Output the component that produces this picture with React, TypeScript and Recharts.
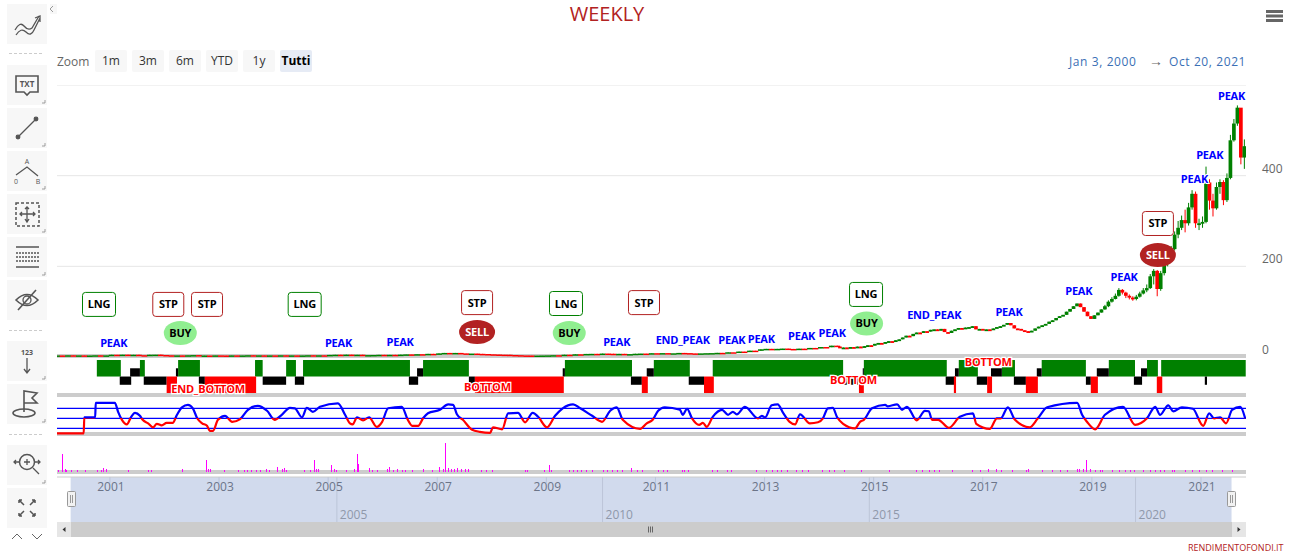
/**
 * Weekly price chart with status, oscillator and volume panes.
 * All x values are years since Jan 2000.
 */
import {
  Bar,
  CartesianGrid,
  ComposedChart,
  Line,
  ReferenceArea,
  ReferenceDot,
  ReferenceLine,
  XAxis,
  YAxis,
} from "recharts";

const FONT = '"Open Sans", sans-serif';
const X_DOMAIN = [0.03, 21.825];
const PLOT_LEFT = 57;
const PLOT_WIDTH = 1189;

// price, sampled every 0.1 year up to mid 2014 (no visible wicks)
const earlyStart = 0.03;
const earlyStep = 0.1;
const earlyClose = [
  3.5, 3.2, 3.8, 3.3, 3.6, 3, 3.4, 3.8, 3.2, 3.6,
  5, 4.8, 5.2, 4.6, 5, 4, 3.8, 5, 5.2, 4.4,
  3.8, 3.4, 3.6, 3.2, 3.8, 4.2, 3, 3.4, 3.2, 3.6,
  3.4, 3, 3.6, 3.2, 3.5, 3.9, 3.3, 3.7, 3.2, 3.6,
  3.4, 3.8, 3.2, 3.6, 3.2, 3.5, 3.9, 3.4, 3.8, 3.3,
  4.6, 5, 4.4, 5.2, 4.6, 5, 4.2, 4.2, 4.4, 4.8,
  4.5, 4.8, 4.4, 5.2, 5.8, 5.4, 6.2, 6, 7, 6.6,
  8, 9, 8.6, 9, 8, 7.5, 7.6, 7, 6.6, 6,
  5.6, 5.2, 5, 4.4, 4, 3.5, 3.4, 3, 3.2, 3.4,
  3.6, 4, 3.8, 5, 4.6, 6, 5.6, 6.8, 7, 6.6,
  7.6, 7.2, 6.6, 7, 6, 6.4, 7.2, 7.6, 7.2, 8.4,
  8, 8.6, 8, 8.2, 9, 8.6, 8, 7.6, 8, 8.4,
  8.6, 9.2, 9, 10.4, 10.2, 12, 11.6, 14, 13.6, 17,
  18, 17.4, 18, 18.6, 17.8, 17.4, 18.4, 18, 20, 19.4,
  22, 21.5, 25, 23,
];

// price from mid 2014 on
const lateStart = 14.38;
const lateStep = 0.0639;
const lateClose = [
  20, 21, 20, 22, 21, 23, 22, 24, 26, 25,
  29, 31, 30, 33, 35, 34, 37, 39, 43, 47,
  46, 51, 54, 53, 57, 56, 60, 61, 58, 62,
  55, 53, 58, 61, 64, 62, 65, 66, 68, 61,
  62, 60, 61, 60, 63, 66, 68, 71, 75, 70,
  63, 62, 59, 57, 55, 58, 63, 67, 70, 73,
  78, 81, 86, 90, 93, 100, 106, 112, 118, 110,
  100, 90, 84, 92, 98, 105, 112, 122, 128, 135,
  148, 142, 135, 131, 128, 133, 140, 147, 152, 178,
  190, 150, 185, 205, 222, 238, 270, 285, 302, 295,
  330, 360, 295, 295, 298, 385, 345, 328, 375, 386,
  346, 395, 478, 515, 550, 440, 465,
];
// wicks, only read for the last candles, where they are big enough to see
const wickFromIndex = 76;
const lateHigh = [
  115, 125, 132, 140, 152, 150, 144, 138, 134, 137,
  144, 152, 160, 183, 194, 192, 190, 210, 228, 245,
  277, 300, 312, 325, 340, 368, 365, 305, 310, 420,
  392, 360, 385, 392, 390, 405, 490, 525, 555, 548, 480,
];
const lateLow = [
  104, 110, 120, 127, 133, 138, 130, 127, 124, 125,
  131, 138, 143, 150, 160, 134, 146, 180, 200, 220,
  235, 262, 280, 275, 290, 325, 285, 280, 285, 295,
  325, 310, 325, 360, 335, 342, 392, 475, 510, 425, 415,
];

const priceTicks = [0, 200, 400, 600];

const annoText = [
  "LNG", "STP", "STP", "LNG", "BUY", "PEAK", "PEAK", "PEAK", "STP", "SELL",
  "LNG", "BUY", "PEAK", "STP", "END_PEAK", "PEAK", "PEAK", "PEAK", "PEAK", "LNG",
  "BUY", "END_PEAK", "PEAK", "PEAK", "PEAK", "STP", "SELL", "PEAK", "PEAK", "PEAK",
];
const annoT = [
  0.8, 2.07, 2.78, 4.57, 2.29, 1.07, 5.19, 6.32, 7.73, 7.73,
  9.36, 9.42, 10.29, 10.79, 11.5, 12.4, 12.94, 13.68, 14.24, 14.86,
  14.87, 16.11, 17.48, 18.76, 19.59, 20.21, 20.21, 20.88, 21.16, 21.56,
];
const annoPrice = [
  116, 116, 116, 116, 53, 31, 31, 33, 120, 55,
  118, 53, 33, 120, 37.5, 37.5, 40, 46, 53, 138,
  74, 93, 99, 146, 176, 294.5, 225, 393, 446, 576,
];

// status pane: [from, to]
const greenSpans = [
  [0.76, 1.2], [1.55, 1.64], [2.25, 2.65], [3.66, 3.8], [4.23, 4.41], [4.54, 6.5],
  [6.74, 7.58], [9.34, 10.57], [10.97, 11.63], [12.05, 14.44], [14.82, 16.34],
  [16.56, 16.91], [17.35, 17.59], [18.08, 18.89], [19.31, 19.79], [20.01, 20.21],
  [20.27, 21.82],
];
const blackUpperSpans = [
  [1.37, 1.55], [2.21, 2.25], [6.63, 6.74], [9.3, 9.34], [10.84, 10.97], [14.8, 14.82],
  [16.49, 16.56], [17.15, 17.35], [17.99, 18.08], [19.09, 19.31], [19.9, 20.01],
];
const blackLowerSpans = [
  [1.18, 1.39], [1.62, 2.04], [2.63, 2.74], [3.8, 4.23], [4.39, 4.56], [6.48, 6.65],
  [7.58, 7.69], [10.55, 10.75], [11.61, 11.89], [14.44, 14.71], [16.32, 16.49],
  [16.89, 17.08], [17.57, 17.79], [18.89, 18.98], [19.77, 19.92], [21.07, 21.11],
];
const redSpans = [
  [2.04, 2.23], [2.74, 3.68], [7.69, 9.32], [10.75, 10.86], [11.89, 12.07], [14.73, 14.82],
  [16.47, 16.51], [17.08, 17.17], [17.79, 18.01], [18.98, 19.11], [20.19, 20.29],
];
const statusText = ["END_BOTTOM", "BOTTOM", "BOTTOM", "BOTTOM"];
const statusT = [2.8, 7.92, 14.63, 17.1];
const statusLevel = [-1.5, -1.27, -0.42, 1.76];

// oscillator
const oscT = [
  0.03, 0.52, 0.53, 0.73, 0.74, 1.09, 1.15, 1.22, 1.31, 1.39, 1.46, 1.55, 1.6, 1.7, 1.79,
  1.86, 1.95, 2.04, 2.15, 2.23, 2.32, 2.43, 2.52, 2.6, 2.69, 2.78, 2.83, 2.89, 2.98, 3.11,
  3.24, 3.38, 3.53, 3.71, 3.88, 4.02, 4.15, 4.3, 4.39, 4.52, 4.61, 4.72, 4.85, 5.18, 5.31,
  5.4, 5.45, 5.53, 5.64, 5.75, 5.89, 5.99, 6.1, 6.35, 6.46, 6.54, 6.65, 6.74, 6.83, 7.05,
  7.2, 7.29, 7.36, 7.47, 7.64, 7.78, 7.97, 8.02, 8.19, 8.3, 8.48, 8.61, 8.75, 8.85, 9.01,
  9.16, 9.3, 9.49, 9.62, 9.84, 10.02, 10.17, 10.29, 10.4, 10.72, 10.84, 10.95, 11.05, 11.17, 11.45,
  11.5, 11.58, 11.67, 11.8, 11.87, 11.94, 12.05, 12.22, 12.33, 12.42, 12.49, 12.64, 12.88, 12.95, 13.01,
  13.13, 13.24, 13.34, 13.46, 13.56, 13.65, 13.83, 13.98, 14.07, 14.16, 14.25, 14.33, 14.44, 14.66, 14.75,
  14.82, 14.97, 15.21, 15.26, 15.43, 15.52, 15.61, 15.79, 15.94, 16.01, 16.07, 16.18, 16.38, 16.58, 16.82,
  16.88, 17.13, 17.26, 17.33, 17.46, 17.59, 17.86, 18.01, 18.18, 18.73, 18.82, 18.91, 19.06, 19.24, 19.57,
  19.79, 20.01, 20.16, 20.25, 20.4, 20.49, 20.65, 20.85, 21.04, 21.15, 21.24, 21.35, 21.46, 21.57, 21.72, 21.81,
];
const oscValue = [
  20, 20, 52, 52, 81, 81, 63, 47, 38, 53, 61, 55, 47, 40, 32,
  39, 36, 41, 41, 57, 72, 77, 70, 50, 40, 35, 25, 25, 47, 55,
  43, 48, 67, 75, 65, 47, 57, 71, 70, 52, 71, 63, 73, 80, 57,
  40, 38, 52, 46, 52, 33, 43, 70, 73, 47, 35, 35, 50, 60, 67,
  78, 77, 58, 47, 27, 23, 21, 32, 28, 60, 61, 42, 61, 53, 32,
  55, 70, 78, 70, 55, 43, 65, 72, 47, 29, 40, 47, 65, 72, 67,
  57, 69, 50, 37, 41, 33, 53, 67, 57, 63, 58, 73, 50, 55, 52,
  76, 78, 61, 43, 38, 58, 40, 42, 50, 70, 71, 52, 39, 30, 43,
  47, 70, 77, 74, 78, 67, 73, 46, 65, 64, 47, 47, 31, 53, 60,
  39, 29, 50, 50, 72, 47, 32, 50, 72, 81, 57, 43, 28, 57, 73,
  37, 50, 73, 57, 76, 64, 72, 69, 35, 60, 50, 52, 40, 67, 73, 50,
];
const oscLevels = [30, 50, 70];

// volume
const volT = [
  0.05, 0.14, 0.18, 0.21, 0.29, 0.41, 0.56, 0.78, 0.85, 0.89, 0.93, 1.35, 1.7, 1.77, 2.34,
  2.78, 2.81, 2.85, 3.11, 3.36, 3.46, 3.53, 3.6, 3.69, 3.77, 3.88, 3.93, 4.08, 4.17, 4.21,
  4.24, 4.56, 4.67, 4.76, 4.79, 4.83, 5.07, 5.11, 5.16, 5.34, 5.49, 5.53, 5.56, 5.75, 5.82,
  5.91, 6.08, 6.13, 6.19, 6.28, 6.37, 6.41, 6.55, 6.74, 6.92, 7.05, 7.12, 7.16, 7.2, 7.27,
  7.32, 7.38, 7.45, 7.51, 7.58, 7.82, 7.91, 8.02, 8.61, 8.66, 8.97, 9.05, 9.1, 9.43, 9.49,
  9.58, 9.65, 9.74, 9.85, 10.04, 10.13, 10.22, 10.31, 10.4, 10.57, 10.68, 10.77, 11.05, 11.14, 11.23,
  11.49, 11.54, 11.61, 12.05, 12.13, 12.33, 12.4, 12.86, 13.04, 13.15, 13.23, 13.32, 13.43, 13.59, 13.7,
  13.8, 14.07, 14.2, 14.29, 14.47, 14.78, 15.3, 15.79, 15.9, 16.03, 16.12, 16.21, 16.45, 16.82, 16.95,
  17.1, 17.26, 17.35, 17.55, 17.81, 17.83, 18.1, 18.27, 18.42, 18.56, 18.73, 18.78, 18.84, 18.91, 18.97,
  19.06, 19.15, 19.2, 19.37, 19.51, 19.61, 19.7, 19.79, 19.94, 20.07, 20.16, 20.25, 20.34, 20.47, 20.52,
  20.71, 20.85, 20.98, 21.11, 21.22, 21.39, 21.57,
];
const volValue = [
  2, 18, 3, 2, 2, 2, 2, 2, 2.5, 4, 3, 2, 2, 2, 3.5,
  12, 3, 3, 2.5, 2, 2, 2.5, 2, 2, 2, 3, 2, 5, 3, 4,
  2.5, 2.5, 2, 12, 3, 3, 7, 3, 2, 2, 3, 18, 8, 4, 2,
  2, 3, 5, 2, 3, 2, 2.5, 2, 3, 2, 5, 3, 29, 4, 3,
  3, 4, 3, 3, 3, 2, 2, 2.5, 2, 2, 2, 7, 2, 2.5, 2,
  2, 2, 2, 2.5, 2, 2.5, 2, 2, 2, 4, 2, 2, 2, 2, 2,
  2, 2, 2, 2, 2, 2, 2, 2, 2, 2.5, 2, 2, 2.5, 2, 2,
  2, 2, 2, 2, 2, 2, 2, 2.5, 2, 2, 2.5, 2, 2, 2, 2,
  3, 3, 2.5, 2.5, 2.5, 3, 2, 2, 2, 2.5, 3, 3, 3, 12, 3,
  2.5, 2, 2, 2, 2.5, 2, 2, 2.5, 2, 2, 2.5, 2.5, 2, 2.5, 2,
  2, 2, 2, 2.5, 2.5, 2, 2,
];

// navigator axis
const navTicks = [1, 3, 5, 7, 9, 11, 13, 15, 17, 19, 21];
const navMajorT = [5.16, 10.03, 14.92, 19.8];
const navMajorLabels = ["2005", "2010", "2015", "2020"];
const navRange = [0.28, 21.56];

const zoomButtons = ["1m", "3m", "6m", "YTD", "1y", "Tutti"];

const candles = (() => {
  const rows: any[] = [];
  earlyClose.forEach((close, i) => {
    const open = i === 0 ? close : earlyClose[i - 1];
    rows.push({
      t: earlyStart + i * earlyStep,
      open,
      close,
      high: Math.max(open, close),
      low: Math.min(open, close),
      wide: true,
    });
  });
  lateClose.forEach((close, i) => {
    const open = i === 0 ? earlyClose[earlyClose.length - 1] : lateClose[i - 1];
    const w = i - wickFromIndex;
    rows.push({
      t: lateStart + i * lateStep,
      open,
      close,
      high: w >= 0 ? lateHigh[w] : Math.max(open, close),
      low: w >= 0 ? lateLow[w] : Math.min(open, close),
      wide: false,
    });
  });
  return rows;
})();

const oscData = oscT.map((t, i) => ({ t, value: oscValue[i] }));
const volData = volT.map((t, i) => ({ t, value: volValue[i] }));
const axisOnly = [{ t: X_DOMAIN[0] }, { t: X_DOMAIN[1] }];

function Candle(props: any) {
  const { x, y, width, height, payload } = props;
  const { open, close, high, low, wide } = payload;
  const k = high > low ? height / (high - low) : 0;
  const cx = x + width / 2;
  const top = y + (high - Math.max(open, close)) * k;
  const bodyH = Math.max(wide ? 1.5 : 1.8, Math.abs(open - close) * k);
  const bodyW = wide ? 5.8 : 3.7;
  const color = close >= open ? "#008000" : "#ff0000";
  return (
    <g>
      {height > 0 && <rect x={cx - 0.5} y={y} width={1} height={height} fill={color} />}
      <rect x={cx - bodyW / 2} y={top} width={bodyW} height={bodyH} fill={color} />
    </g>
  );
}

function VolumeBar({ x, y, height }: any) {
  return <rect x={Math.round(x)} y={y} width={1} height={height} fill="#ff00ff" shapeRendering="crispEdges" />;
}

function PriceTick({ x, y, payload }: any) {
  if (payload.value === 600) return <g />;
  return (
    <text x={x + 8} y={y - 3} fontFamily={FONT} fontSize={12} fill="#666" textAnchor="start">
      {payload.value}
    </text>
  );
}

function Annotation({ cx, cy, text }: any) {
  const common = {
    x: cx,
    y: cy + 4,
    textAnchor: "middle" as const,
    fontFamily: FONT,
    fontSize: 11,
    fontWeight: 700,
    letterSpacing: -0.2,
  };
  if (text === "LNG" || text === "STP") {
    const w = text === "LNG" ? 33 : 31;
    return (
      <g>
        <rect
          x={cx - w / 2}
          y={cy - 12}
          width={w}
          height={24}
          rx={3}
          fill="#fff"
          stroke={text === "LNG" ? "#008000" : "#b22222"}
        />
        <text {...common} fill="#000">{text}</text>
      </g>
    );
  }
  if (text === "BUY" || text === "SELL") {
    const sell = text === "SELL";
    return (
      <g>
        <ellipse cx={cx} cy={cy} rx={sell ? 18 : 16.5} ry={12} fill={sell ? "#b22222" : "#90ee90"} />
        <text {...common} fill={sell ? "#fff" : "#000"}>{text}</text>
      </g>
    );
  }
  return (
    <text {...common} fill="#0000ff" stroke="#fff" strokeWidth={2} paintOrder="stroke">
      {text}
    </text>
  );
}

function StatusLabel({ cx, cy, text }: any) {
  return (
    <text
      x={cx}
      y={cy + 4}
      textAnchor="middle"
      fontFamily={FONT}
      fontSize={11}
      fontWeight={700}
      letterSpacing={-0.2}
      fill="#ff0000"
      stroke="#fff"
      strokeWidth={2.5}
      paintOrder="stroke"
    >
      {text}
    </text>
  );
}

// navigator tick hangs down from the top edge of its chart
function NavTick({ x, payload }: any) {
  return (
    <g>
      <line x1={x} x2={x} y1={1} y2={7} stroke="#bcc5d8" />
      <text x={x + 1} y={15} textAnchor="middle" fontFamily={FONT} fontSize={12} fill="#6b7488">
        {2000 + payload.value}
      </text>
    </g>
  );
}

function hiddenX() {
  return <XAxis dataKey="t" type="number" domain={X_DOMAIN} allowDataOverflow hide />;
}

function PriceChart() {
  return (
    <ComposedChart
      width={PLOT_WIDTH + 44}
      height={272}
      data={candles}
      margin={{ top: 0, right: 0, bottom: 0, left: 0 }}
    >
      <CartesianGrid vertical={false} stroke="#e6e6e6" horizontalValues={[200, 400, 600]} />
      {hiddenX()}
      <YAxis
        orientation="right"
        width={44}
        domain={[0, 600]}
        ticks={priceTicks}
        axisLine={false}
        tickLine={false}
        tick={PriceTick}
        interval={0}
        allowDataOverflow
      />
      <Bar
        dataKey={(row: any) => [row.low, row.high]}
        barSize={1}
        shape={Candle}
        isAnimationActive={false}
      />
      {annoText.map((text, i) => (
        <ReferenceDot
          key={i}
          x={annoT[i]}
          y={annoPrice[i]}
          ifOverflow="visible"
          shape={(p: any) => <Annotation cx={p.cx} cy={p.cy} text={text} />}
        />
      ))}
    </ComposedChart>
  );
}

function StatusChart() {
  const area = (spans: number[][], y1: number, y2: number, fill: string) =>
    spans.map(([x1, x2], i) => (
      <ReferenceArea
        key={`${fill}-${y1}-${i}`}
        x1={x1}
        x2={x2}
        y1={y1}
        y2={y2}
        fill={fill}
        fillOpacity={1}
        stroke="none"
      />
    ));
  return (
    <ComposedChart
      width={PLOT_WIDTH}
      height={43}
      data={axisOnly}
      margin={{ top: 0, right: 0, bottom: 0, left: 0 }}
    >
      {hiddenX()}
      <YAxis domain={[-2.48, 2.73]} allowDataOverflow hide />
      {area(greenSpans, 0, 2, "#008000")}
      {area(blackUpperSpans, 0, 1, "#000")}
      {area(blackLowerSpans, -1, 0, "#000")}
      {area(redSpans, -2, 0, "#ff0000")}
      {statusText.map((text, i) => (
        <ReferenceDot
          key={i}
          x={statusT[i]}
          y={statusLevel[i]}
          ifOverflow="visible"
          shape={(p: any) => <StatusLabel cx={p.cx} cy={p.cy} text={text} />}
        />
      ))}
    </ComposedChart>
  );
}

function OscChart() {
  return (
    <ComposedChart
      width={PLOT_WIDTH}
      height={39}
      data={oscData}
      margin={{ top: 0, right: 0, bottom: 0, left: 0 }}
    >
      <defs>
        <linearGradient id="oscStroke" gradientUnits="userSpaceOnUse" x1="0" x2="0" y1="0" y2="39">
          <stop offset="0.546" stopColor="#0000ff" />
          <stop offset="0.546" stopColor="#ff0000" />
        </linearGradient>
      </defs>
      {hiddenX()}
      <YAxis domain={[14.6, 92.6]} allowDataOverflow hide />
      {oscLevels.map((level) => (
        <ReferenceLine key={level} y={level} stroke="#0000ff" strokeWidth={1.3} />
      ))}
      <Line
        dataKey="value"
        type="monotone"
        stroke="url(#oscStroke)"
        strokeWidth={2.2}
        dot={false}
        isAnimationActive={false}
      />
    </ComposedChart>
  );
}

function VolumeChart() {
  return (
    <ComposedChart
      width={PLOT_WIDTH}
      height={35}
      data={volData}
      margin={{ top: 0, right: 0, bottom: 0, left: 0 }}
    >
      {hiddenX()}
      <YAxis domain={[0, 35]} allowDataOverflow hide />
      <Bar dataKey="value" barSize={1} shape={VolumeBar} isAnimationActive={false} />
    </ComposedChart>
  );
}

function NavigatorChart() {
  return (
    <ComposedChart
      width={PLOT_WIDTH}
      height={46}
      data={axisOnly}
      margin={{ top: 0, right: 0, bottom: 0, left: 0 }}
    >
      <XAxis
        dataKey="t"
        type="number"
        orientation="top"
        height={1}
        domain={X_DOMAIN}
        ticks={navTicks}
        interval={0}
        tick={NavTick}
        tickLine={false}
        axisLine={{ stroke: "#ccc" }}
        allowDataOverflow
      />
      <YAxis domain={[0, 1]} allowDataOverflow hide />
      <ReferenceArea
        x1={navRange[0]}
        x2={navRange[1]}
        y1={0}
        y2={1}
        fill="#d1daed"
        fillOpacity={1}
        stroke="none"
      />
      {navMajorT.map((t, i) => (
        <ReferenceLine
          key={t}
          x={t}
          stroke="#bcc5d8"
          label={{
            value: navMajorLabels[i],
            position: "insideBottomLeft",
            offset: 3,
            fill: "#8f98aa",
            fontSize: 12,
            fontFamily: FONT,
          }}
        />
      ))}
    </ComposedChart>
  );
}

const iconStroke = "#555";

function ToolIcon({ index }: { index: number }) {
  const s = { fill: "none", stroke: iconStroke, strokeWidth: 1.3 };
  const txt = { fontFamily: FONT, fill: iconStroke, textAnchor: "middle" as const };
  const icons = [
    <g {...s}>
      <path d="M8 26 Q13 17 17 22 T25 24 L32 12" />
      <path d="M9 31 Q14 23 19 28 T27 26 L33 14 M28 14 L33 12 L33 18" />
    </g>,
    <g>
      <path d="M9 11 H31 V27 H23 L20 30 L17 27 H9 Z" {...s} strokeWidth={1.6} />
      <text x={20} y={22} fontSize={8} fontWeight={700} {...txt}>TXT</text>
    </g>,
    <g {...s}>
      <line x1={11} y1={29} x2={29} y2={11} />
      <circle cx={11} cy={29} r={1.8} fill={iconStroke} />
      <circle cx={29} cy={11} r={1.8} fill={iconStroke} />
    </g>,
    <g>
      <path d="M9 24 L20 16 L31 25" {...s} />
      <text x={20} y={13} fontSize={7} {...txt}>A</text>
      <text x={9} y={33} fontSize={7} {...txt}>0</text>
      <text x={31} y={33} fontSize={7} {...txt}>B</text>
    </g>,
    <g {...s}>
      <rect x={9} y={9} width={23} height={23} strokeDasharray="3 2" strokeWidth={1.5} />
      <path d="M13 20 H28 M20 13 V28 M15 18 L13 20 L15 22 M26 18 L28 20 L26 22 M18 15 L20 13 L22 15 M18 25 L20 28 L22 25" />
    </g>,
    <g {...s}>
      <path d="M9 10 H32 M9 30 H32" />
      <path d="M9 16 H32 M9 20 H32 M9 24 H32" strokeDasharray="2 1" />
    </g>,
    <g {...s}>
      <path d="M9 20 Q20 9 31 20 Q20 31 9 20 Z" strokeWidth={1.6} />
      <circle cx={20} cy={20} r={4} />
      <line x1={11} y1={30} x2={29} y2={10} strokeWidth={1.6} />
    </g>,
    <g>
      <text x={20} y={14} fontSize={7} fontWeight={700} {...txt}>123</text>
      <path d="M20 17 V32 M17 28 L20 32 L23 28" {...s} />
    </g>,
    <g {...s}>
      <path d="M17 28 V7 L30 9 L25 14 L30 19 L17 19" strokeWidth={1.6} />
      <ellipse cx={17} cy={29} rx={11} ry={4} strokeWidth={1.6} />
    </g>,
    <g {...s}>
      <circle cx={20} cy={17} r={7.5} strokeWidth={1.5} />
      <path d="M17 17 H23 M20 14 V20 M26 23 L32 29 M7 17 H12 M9 15 L7 17 L9 19 M28 17 H33 M31 15 L33 17 L31 19" />
    </g>,
    <g {...s} strokeWidth={1.5}>
      <path d="M12 12 L17 17 M12 12 V15 M12 12 H15 M28 12 L23 17 M28 12 V15 M28 12 H25" />
      <path d="M12 28 L17 23 M12 28 V25 M12 28 H15 M28 28 L23 23 M28 28 V25 M28 28 H25" />
    </g>,
  ];
  return (
    <svg width={40} height={40} viewBox="0 0 40 40" style={{ display: "block" }}>
      {icons[index]}
      {index > 0 && index !== 6 && index !== 10 && (
        <path d="M38 35 V38 H35" fill="none" stroke="#888" strokeWidth={0.8} />
      )}
    </svg>
  );
}

const toolTops = [4, 65, 108, 151, 194, 237, 280, 341, 384, 445, 488];
const dashTops = [53, 330, 434];

function Toolbar() {
  return (
    <>
      {toolTops.map((top, i) => (
        <div
          key={top}
          style={{ position: "absolute", left: 7, top, width: 40, height: 40, background: "#f7f7f7" }}
        >
          <ToolIcon index={i} />
        </div>
      ))}
      {dashTops.map((top) => (
        <div
          key={top}
          style={{ position: "absolute", left: 9, top, width: 33, borderTop: "1px dashed #ccc" }}
        />
      ))}
      <div style={{ position: "absolute", left: 50, top: 4, width: 7, height: 10, background: "#f7f7f7" }} />
      <svg style={{ position: "absolute", left: 0, top: 0 }} width={60} height={554}>
        <path d="M53 6 L50 9 L53 12" fill="none" stroke="#999" />
        <path d="M12 539 L17 534 L22 539 M32 534 L37 539 L42 534" fill="none" stroke="#666" />
      </svg>
    </>
  );
}

function box(left: number, top: number, width: number, height: number, background: string) {
  return { position: "absolute" as const, left, top, width, height, background };
}

function Handle({ left }: { left: number }) {
  return (
    <svg style={{ position: "absolute", left, top: 491 }} width={9} height={17}>
      <rect x={0.5} y={0.5} width={8} height={15} rx={1} fill="#f2f2f2" stroke="#999" />
      <path d="M3.5 4 V12 M5.5 4 V12" stroke="#999" />
    </svg>
  );
}

export default function App() {
  return (
    <div
      style={{
        position: "absolute",
        left: 0,
        top: 0,
        width: 1290,
        height: 554,
        overflow: "hidden",
        background: "#fff",
        fontFamily: FONT,
      }}
    >
      <div
        style={{
          position: "absolute",
          left: 0,
          top: 1.5,
          width: 1214,
          textAlign: "center",
          fontSize: 20,
          lineHeight: "24px",
          color: "#b22222",
        }}
      >
        WEEKLY
      </div>
      <svg style={{ position: "absolute", left: 1266, top: 10 }} width={18} height={12}>
        <path d="M0 1.5 H17 M0 6 H17 M0 10.5 H17" stroke="#666" strokeWidth={3} />
      </svg>

      <Toolbar />

      <div style={{ position: "absolute", left: 57, top: 53, fontSize: 12, color: "#666" }}>Zoom</div>
      {zoomButtons.map((label, i) => (
        <div
          key={label}
          style={{
            position: "absolute",
            left: 95 + i * 37,
            top: 50,
            width: 32,
            height: 22,
            borderRadius: 2,
            background: label === "Tutti" ? "#e6ebf5" : "#f7f7f7",
            color: label === "Tutti" ? "#000" : "#333",
            fontWeight: label === "Tutti" ? 700 : 400,
            fontSize: 12,
            lineHeight: "22px",
            textAlign: "center",
          }}
        >
          {label}
        </div>
      ))}
      <div style={{ position: "absolute", left: 1069, top: 53, fontSize: 12, letterSpacing: 0.6, color: "#3a6fb5", whiteSpace: "pre" }}>
        Jan 3, 2000
      </div>
      <div style={{ position: "absolute", left: 1149, top: 51, fontSize: 14, color: "#666" }}>→</div>
      <div style={{ position: "absolute", left: 1169, top: 53, fontSize: 12, letterSpacing: 0.6, color: "#3a6fb5", whiteSpace: "pre" }}>
        Oct 20, 2021
      </div>

      {/* pane separators */}
      {[354, 393, 432, 470].map((top) => (
        <div key={top} style={box(PLOT_LEFT, top, PLOT_WIDTH, 4, "#cccccc")} />
      ))}

      <div style={{ position: "absolute", left: PLOT_LEFT, top: 354 }}>
        <StatusChart />
      </div>
      <div style={{ position: "absolute", left: PLOT_LEFT, top: 85 }}>
        <PriceChart />
      </div>
      <div style={{ position: "absolute", left: PLOT_LEFT, top: 397 }}>
        <OscChart />
      </div>
      <div style={{ position: "absolute", left: PLOT_LEFT, top: 437 }}>
        <VolumeChart />
      </div>
      <div style={{ position: "absolute", left: PLOT_LEFT, top: 476 }}>
        <NavigatorChart />
      </div>

      <Handle left={67} />
      <Handle left={1227} />

      {/* scrollbar */}
      <div style={box(PLOT_LEFT, 522, PLOT_WIDTH, 15, "#cccccc")} />
      <div style={box(PLOT_LEFT, 522, 14, 15, "#e6e6e6")} />
      <div style={box(1232, 522, 14, 15, "#e6e6e6")} />
      <svg style={{ position: "absolute", left: PLOT_LEFT, top: 522 }} width={PLOT_WIDTH} height={15}>
        <path d="M8.5 5 L5.5 7.5 L8.5 10 Z" fill="#333" />
        <path d="M1180.5 5 L1183.5 7.5 L1180.5 10 Z" fill="#333" />
        <path d="M591.5 4.5 V10.5 M593.5 4.5 V10.5 M595.5 4.5 V10.5" stroke="#666" />
      </svg>

      <div
        style={{
          position: "absolute",
          left: 1188,
          top: 541,
          fontSize: 9,
          lineHeight: "13px",
          color: "#b22222",
          whiteSpace: "pre",
        }}
      >
        RENDIMENTOFONDI.IT
      </div>
    </div>
  );
}
